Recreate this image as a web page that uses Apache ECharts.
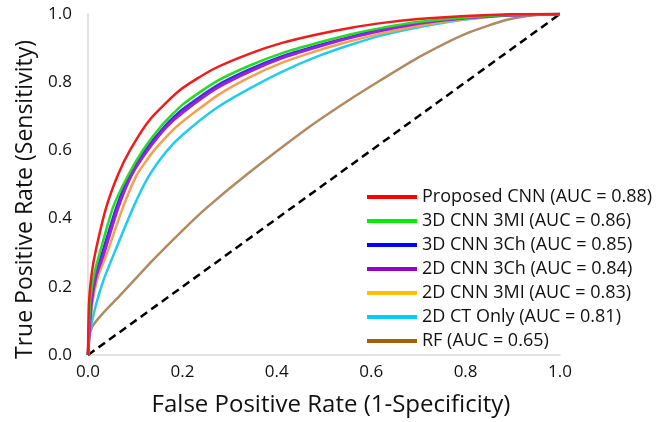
<!DOCTYPE html>
<html>
<head>
<meta charset="utf-8">
<script src="https://cdn.jsdelivr.net/npm/echarts@6/dist/echarts.min.js"></script>
<style>
  html, body { margin: 0; padding: 0; background: #fff; }
  #roc { width: 664px; height: 422px; }
</style>
</head>
<body>
<div id="roc"></div>
<script>
  // ROC 曲线数据, [FPR, TPR]
  const proposedCnn = [[0, 0], [0.002, 0.15], [0.008, 0.24], [0.017, 0.31], [0.038, 0.43], [0.064, 0.53], [0.09, 0.603], [0.131, 0.69], [0.195, 0.777], [0.265, 0.838], [0.343, 0.884], [0.413, 0.916], [0.485, 0.94], [0.555, 0.959], [0.625, 0.974], [0.7, 0.985], [0.8, 0.994], [0.9, 0.999], [1, 1]]
  const cnn3d3mi = [[0, 0], [0.004, 0.15], [0.012, 0.23], [0.023, 0.29], [0.053, 0.433], [0.085, 0.527], [0.117, 0.602], [0.153, 0.668], [0.201, 0.735], [0.273, 0.803], [0.343, 0.849], [0.413, 0.886], [0.485, 0.915], [0.555, 0.94], [0.625, 0.96], [0.703, 0.977], [0.8, 0.99], [0.9, 0.998], [1, 1]]
  const cnn3d3ch = [[0, 0], [0.006, 0.15], [0.015, 0.23], [0.028, 0.29], [0.06, 0.433], [0.088, 0.527], [0.121, 0.6], [0.162, 0.67], [0.2, 0.72], [0.273, 0.79], [0.343, 0.838], [0.413, 0.877], [0.485, 0.907], [0.555, 0.933], [0.625, 0.956], [0.7, 0.974], [0.8, 0.989], [0.9, 0.997], [1, 1]]
  const cnn2d3ch = [[0, 0], [0.007, 0.15], [0.017, 0.23], [0.032, 0.29], [0.064, 0.433], [0.092, 0.527], [0.126, 0.6], [0.167, 0.67], [0.201, 0.712], [0.273, 0.783], [0.343, 0.832], [0.413, 0.872], [0.485, 0.903], [0.555, 0.93], [0.625, 0.952], [0.7, 0.972], [0.8, 0.988], [0.9, 0.997], [1, 1]]
  const cnn2d3mi = [[0, 0], [0.009, 0.15], [0.021, 0.23], [0.038, 0.29], [0.074, 0.433], [0.103, 0.527], [0.14, 0.6], [0.188, 0.67], [0.273, 0.76], [0.343, 0.815], [0.413, 0.858], [0.485, 0.892], [0.555, 0.92], [0.625, 0.944], [0.7, 0.965], [0.8, 0.985], [0.9, 0.996], [1, 1]]
  const ctOnly2d = [[0, 0], [0.003, 0.06], [0.017, 0.148], [0.033, 0.22], [0.053, 0.29], [0.095, 0.43], [0.127, 0.52], [0.165, 0.595], [0.2, 0.645], [0.273, 0.725], [0.343, 0.782], [0.413, 0.832], [0.485, 0.875], [0.555, 0.909], [0.625, 0.938], [0.703, 0.962], [0.8, 0.984], [0.9, 0.996], [1, 1]]
  const rf = [[0, 0], [0.002, 0.05], [0.01, 0.085], [0.03, 0.12], [0.066, 0.172], [0.138, 0.279], [0.2, 0.365], [0.25, 0.43], [0.337, 0.53], [0.47, 0.67], [0.55, 0.745], [0.619, 0.805], [0.703, 0.875], [0.8, 0.942], [0.888, 0.983], [0.95, 0.997], [1, 1]]
  const chance = [[0, 0], [1, 1]]

  const seriesNames = ['Proposed CNN (AUC = 0.88)', '3D CNN 3MI (AUC = 0.86)', '3D CNN 3Ch (AUC = 0.85)', '2D CNN 3Ch (AUC = 0.84)', '2D CNN 3MI (AUC = 0.83)', '2D CT Only (AUC = 0.81)', 'RF (AUC = 0.65)']
  const seriesData = [proposedCnn, cnn3d3mi, cnn3d3ch, cnn2d3ch, cnn2d3mi, ctOnly2d, rf]
  const legendColors = ['#ff0000', '#00f000', '#0000ff', '#9900cc', '#ffc000', '#00ccff', '#9c6500']
  const lineColors = ['#ee1c1c', '#22dd22', '#3333dd', '#9922dd', '#f5a050', '#22ccee', '#b08a60']
  const lineZ = [10, 9, 7, 8, 6, 5, 4]
  const ticks = [0, 0.2, 0.4, 0.6, 0.8, 1.0]

  const font = '"Open Sans", "Noto Sans", sans-serif'
  const chart = echarts.init(document.getElementById('roc'))

  let series = seriesNames.map((name, i) => ({
    name: name,
    type: 'line',
    smooth: 0.2,
    showSymbol: false,
    data: seriesData[i],
    itemStyle: { color: legendColors[i] },
    lineStyle: { color: lineColors[i], width: i === 3 ? 3 : 2.5 },
    z: lineZ[i]
  }))
  // 对角线
  series.push({
    name: 'chance',
    type: 'line',
    showSymbol: false,
    data: chance,
    lineStyle: { color: '#000', width: 2.5, type: [8, 5] },
    z: 1
  })

  chart.setOption({
    animation: false,
    grid: { left: 88, right: 104, top: 14, bottom: 57 },
    legend: {
      data: seriesNames,
      orient: 'vertical',
      left: 362,
      top: 183,
      icon: 'rect',
      itemWidth: 50,
      itemHeight: 4,
      itemGap: 6,
      textStyle: { fontFamily: font, fontSize: 18, color: '#111' }
    },
    xAxis: {
      type: 'value',
      min: 0,
      max: 1,
      interval: 0.2,
      name: 'False Positive Rate (1-Specificity)',
      nameLocation: 'middle',
      nameGap: 38,
      nameTextStyle: { fontFamily: font, fontSize: 24, color: '#111', padding: [0, 0, 0, 14] },
      axisLine: { show: true, lineStyle: { color: '#d9d9d9', width: 1.5 } },
      axisTick: { show: false },
      splitLine: { show: false },
      axisLabel: { fontFamily: font, fontSize: 17, color: '#111', margin: 9, formatter: v => v.toFixed(1) }
    },
    yAxis: {
      type: 'value',
      min: 0,
      max: 1,
      interval: 0.2,
      name: 'True Positive Rate (Sensitivity)',
      nameLocation: 'middle',
      nameRotate: 90,
      nameGap: 48,
      nameTextStyle: { fontFamily: font, fontSize: 23, color: '#111', padding: [0, 30, 0, 0] },
      axisLine: { show: true, lineStyle: { color: '#d9d9d9', width: 1.5 } },
      axisTick: { show: false },
      splitLine: { show: false },
      axisLabel: { fontFamily: font, fontSize: 17, color: '#111', margin: 16, formatter: v => v.toFixed(1) }
    },
    series: series
  })
</script>
</body>
</html>
